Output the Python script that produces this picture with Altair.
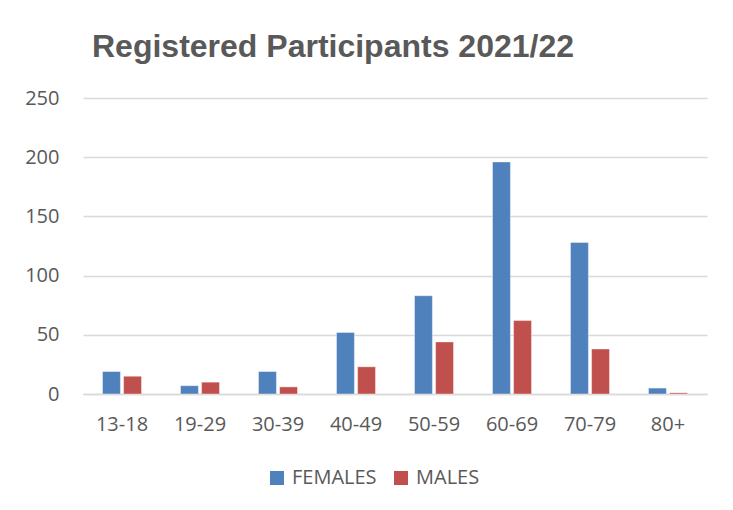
import altair as alt
import pandas as pd

ages = ["13-18", "19-29", "30-39", "40-49", "50-59", "60-69", "70-79", "80+"]
females = [19, 7, 19, 52, 83, 196, 128, 5]
males = [15, 10, 6, 23, 44, 62, 38, 1]
series = ["FEMALES", "MALES"]
colors = ["#4F81BD", "#C0504D"]

rows = []
for a, f, m in zip(ages, females, males):
    rows.append({"age": a, "sex": "FEMALES", "count": f})
    rows.append({"age": a, "sex": "MALES", "count": m})
df = pd.DataFrame(rows)

font = "Open Sans"

chart = alt.Chart(df).mark_bar(stroke="white", strokeOpacity=0.5, strokeWidth=0.8).encode(
    x=alt.X("age:N", sort=ages, title=None,
            scale=alt.Scale(paddingInner=0.5, paddingOuter=0.25),
            axis=alt.Axis(labelAngle=0, ticks=False, domainColor="#D9D9D9", domainWidth=1.5,
                          labelPadding=20, labelFontSize=20, labelColor="#595959", labelFont=font)),
    xOffset=alt.XOffset("sex:N", sort=series, scale=alt.Scale(paddingInner=0.15)),
    y=alt.Y("count:Q", title=None,
            scale=alt.Scale(domain=[0, 250]),
            axis=alt.Axis(values=[0, 50, 100, 150, 200, 250], ticks=False, domain=False,
                          gridColor="#D9D9D9", gridWidth=1.5, labelPadding=24,
                          labelFontSize=20, labelColor="#595959", labelFont=font)),
    color=alt.Color("sex:N", sort=series, scale=alt.Scale(domain=series, range=colors),
                    legend=alt.Legend(title=None, orient="none", direction="horizontal",
                                      legendX=184, legendY=370, symbolType="square",
                                      symbolSize=196, symbolStrokeWidth=0, labelFontSize=20,
                                      labelColor="#595959", labelFont=font, columnPadding=14,
                                      labelOffset=5)),
).properties(
    width=624,
    height=296,
    title=alt.Title("Registered Participants 2021/22", anchor="start", frame="group", dx=9,
                    offset=24, fontSize=32, font="Liberation Sans", fontWeight="bold",
                    color="#595959"),
    padding={"left": 75, "top": 90, "right": 18, "bottom": 108},
    autosize=alt.AutoSizeParams(type="none"),
    background="white",
).configure_view(stroke=None)

chart.save("out.html", embed_options={"renderer": "svg", "actions": False})
